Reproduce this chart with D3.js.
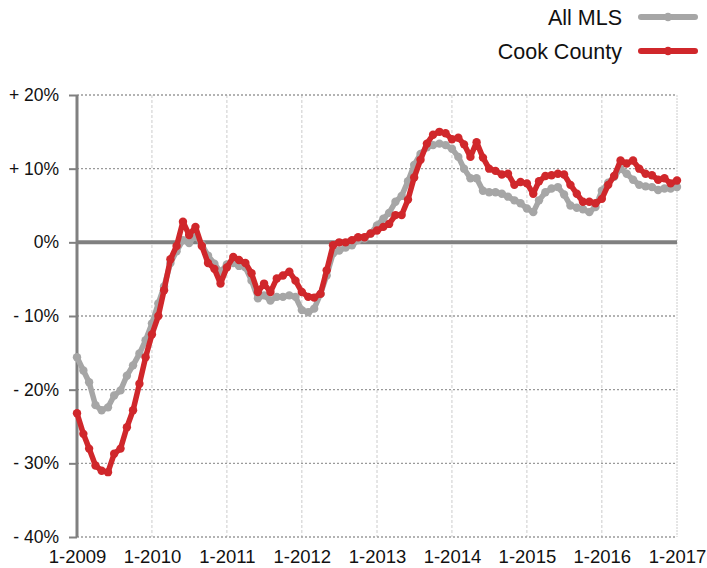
<!DOCTYPE html>
<html>
<head>
<meta charset="utf-8">
<script src="https://cdn.jsdelivr.net/npm/d3@7"></script>
<style>
  html, body { margin: 0; padding: 0; background: #fff; }
  svg { display: block; font-family: "Liberation Sans", Arial, Helvetica, sans-serif; }
</style>
</head>
<body>
<svg id="chart" width="707" height="568"></svg>
<script>
// Monthly observations, 1-2009 through 1-2017 (97 months)
const startYear = 2009;
const endYear = 2017;

const allMLS = [
  -15.6, -17.4, -19.0, -22.1, -22.8, -22.4, -20.8, -20.1, -18.1, -16.7, -15.1, -13.3,
  -11.0, -8.3, -6.0, -2.8, -1.2, 0.3, -0.1, 1.0, -0.3, -1.8, -2.9, -4.0,
  -3.0, -2.8, -3.2, -3.4, -5.2, -7.6, -7.2, -7.9, -7.4, -7.4, -7.2, -7.4,
  -9.2, -9.5, -9.0, -7.0, -4.5, -1.5, -1.1, -0.7, -0.4, 0.3, 0.5, 1.2,
  2.3, 3.2, 4.0, 5.5, 6.3, 8.3, 10.5, 12.0, 12.9, 13.2, 13.4, 13.2,
  12.7, 11.6, 10.0, 8.7, 8.7, 7.0, 6.8, 6.8, 6.6, 6.2, 5.7, 5.3,
  4.6, 4.1, 5.7, 6.8, 7.3, 7.5, 6.5, 5.0, 4.7, 4.5, 4.1, 4.8,
  7.0, 8.1, 8.9, 10.0, 9.3, 8.5, 7.8, 7.6, 7.5, 7.1, 7.3, 7.3,
  7.5
];

const cookCounty = [
  -23.2, -26.0, -28.0, -30.3, -31.0, -31.2, -28.7, -28.0, -25.1, -22.8, -19.2, -15.6,
  -12.5, -10.0, -6.5, -2.3, -0.5, 2.8, 1.0, 2.1, -0.5, -2.8, -3.6, -5.6,
  -3.4, -2.0, -2.4, -2.8, -4.2, -6.75, -5.6, -6.75, -4.9, -4.5, -4.0, -5.2,
  -6.75, -7.4, -7.5, -7.0, -3.8, -0.4, 0.0, 0.0, 0.3, 0.7, 0.7, 1.2,
  1.6, 2.1, 2.5, 3.7, 3.7, 5.8, 8.8, 11.2, 13.4, 14.6, 15.0, 14.8,
  14.0, 14.2, 13.3, 11.6, 13.6, 11.5, 10.0, 9.7, 9.2, 9.3, 7.8, 8.2,
  8.0, 6.6, 8.3, 9.0, 9.1, 9.3, 9.2, 7.8, 6.6, 5.5, 5.5, 5.3,
  5.9, 7.8, 9.0, 11.1, 10.7, 11.1, 10.0, 9.3, 9.1, 8.5, 8.7, 8.0,
  8.4
];

const seriesNames = ["All MLS", "Cook County"];
const seriesColors = ["#a6a6a6", "#d0272b"];

const yTicks = [20, 10, 0, -10, -20, -30, -40];
const yTickLabels = ["+ 20%", "+ 10%", "0%", "- 10%", "- 20%", "- 30%", "- 40%"];
const xTickYears = [2009, 2010, 2011, 2012, 2013, 2014, 2015, 2016, 2017];
const xTickLabels = ["1-2009", "1-2010", "1-2011", "1-2012", "1-2013", "1-2014", "1-2015", "1-2016", "1-2017"];

// ---------- layout ----------
const svg = d3.select("#chart");
const margin = { left: 77, right: 30, top: 95, bottom: 31 };
const W = 707, H = 568;
const x0 = margin.left, x1 = W - margin.right, y0 = margin.top, y1 = H - margin.bottom;

const x = d3.scaleTime()
  .domain([new Date(startYear, 0, 1), new Date(endYear, 0, 1)])
  .range([x0, x1]);
const y = d3.scaleLinear().domain([-40, 20]).range([y1, y0]);

const monthDate = i => new Date(startYear, i, 1);

// vertical grid
svg.append("g").selectAll("line")
  .data(xTickYears.slice(1))
  .join("line")
  .attr("x1", d => x(new Date(d, 0, 1))).attr("x2", d => x(new Date(d, 0, 1)))
  .attr("y1", y0).attr("y2", y1)
  .attr("stroke", "#cccccc").attr("stroke-width", 1)
  .attr("stroke-dasharray", d => d === endYear ? "2,1" : "3,2");

// horizontal grid (dotted)
svg.append("g").selectAll("line")
  .data(yTicks.filter(d => d !== 0))
  .join("line")
  .attr("x1", x0).attr("x2", x1)
  .attr("y1", d => y(d)).attr("y2", d => y(d))
  .attr("stroke", "#9a9a9a").attr("stroke-width", 1.3)
  .attr("stroke-dasharray", "2,2");

// zero line
svg.append("line")
  .attr("x1", x0).attr("x2", x1)
  .attr("y1", y(0)).attr("y2", y(0))
  .attr("stroke", "#808080").attr("stroke-width", 4);

// y axis
const yAxis = d3.axisLeft(y)
  .tickValues(yTicks)
  .tickFormat((d, i) => yTickLabels[i])
  .tickSize(8)
  .tickPadding(10);
const gy = svg.append("g").attr("transform", `translate(${x0},0)`).call(yAxis);
gy.select(".domain").attr("stroke", "#808080").attr("stroke-width", 3)
  .attr("d", `M0,${y1}V${y0}`);
gy.selectAll(".tick line").attr("stroke", "#808080").attr("stroke-width", 2);
gy.selectAll(".tick text")
  .attr("fill", "#111").attr("font-size", 17.5)
  .attr("font-family", "'Liberation Sans', Arial, sans-serif");

// x axis (labels only)
const xAxis = d3.axisBottom(x)
  .tickValues(xTickYears.map(d => new Date(d, 0, 1)))
  .tickFormat((d, i) => xTickLabels[i])
  .tickSize(0)
  .tickPadding(13);
const gx = svg.append("g").attr("transform", `translate(0,${y1})`).call(xAxis);
gx.select(".domain").remove();
gx.selectAll(".tick text")
  .attr("fill", "#111").attr("font-size", 18.5)
  .attr("font-family", "'Liberation Sans', Arial, sans-serif");

// series
const line = d3.line()
  .x((d, i) => x(monthDate(i)))
  .y(d => y(d));

const data = [allMLS, cookCounty];
data.forEach((vals, si) => {
  const g = svg.append("g");
  g.append("path")
    .datum(vals)
    .attr("d", line)
    .attr("fill", "none")
    .attr("stroke", seriesColors[si])
    .attr("stroke-width", 5.5)
    .attr("stroke-linejoin", "round")
    .attr("stroke-linecap", "round");
  g.selectAll("circle")
    .data(vals)
    .join("circle")
    .attr("cx", (d, i) => x(monthDate(i)))
    .attr("cy", d => y(d))
    .attr("r", 4.2)
    .attr("fill", seriesColors[si]);
});

// legend
const legend = svg.append("g");
const legendY = [17, 51];
seriesNames.forEach((name, i) => {
  const ly = legendY[i];
  legend.append("text")
    .attr("x", 622).attr("y", ly)
    .attr("dy", "0.35em")
    .attr("text-anchor", "end")
    .attr("font-size", 21.5)
    .attr("fill", "#111")
    .text(name);
  legend.append("line")
    .attr("x1", 641).attr("x2", 695)
    .attr("y1", ly).attr("y2", ly)
    .attr("stroke", seriesColors[i])
    .attr("stroke-width", 6)
    .attr("stroke-linecap", "round");
  legend.append("circle")
    .attr("cx", 668).attr("cy", ly).attr("r", 4.3)
    .attr("fill", seriesColors[i]);
});
</script>
</body>
</html>
